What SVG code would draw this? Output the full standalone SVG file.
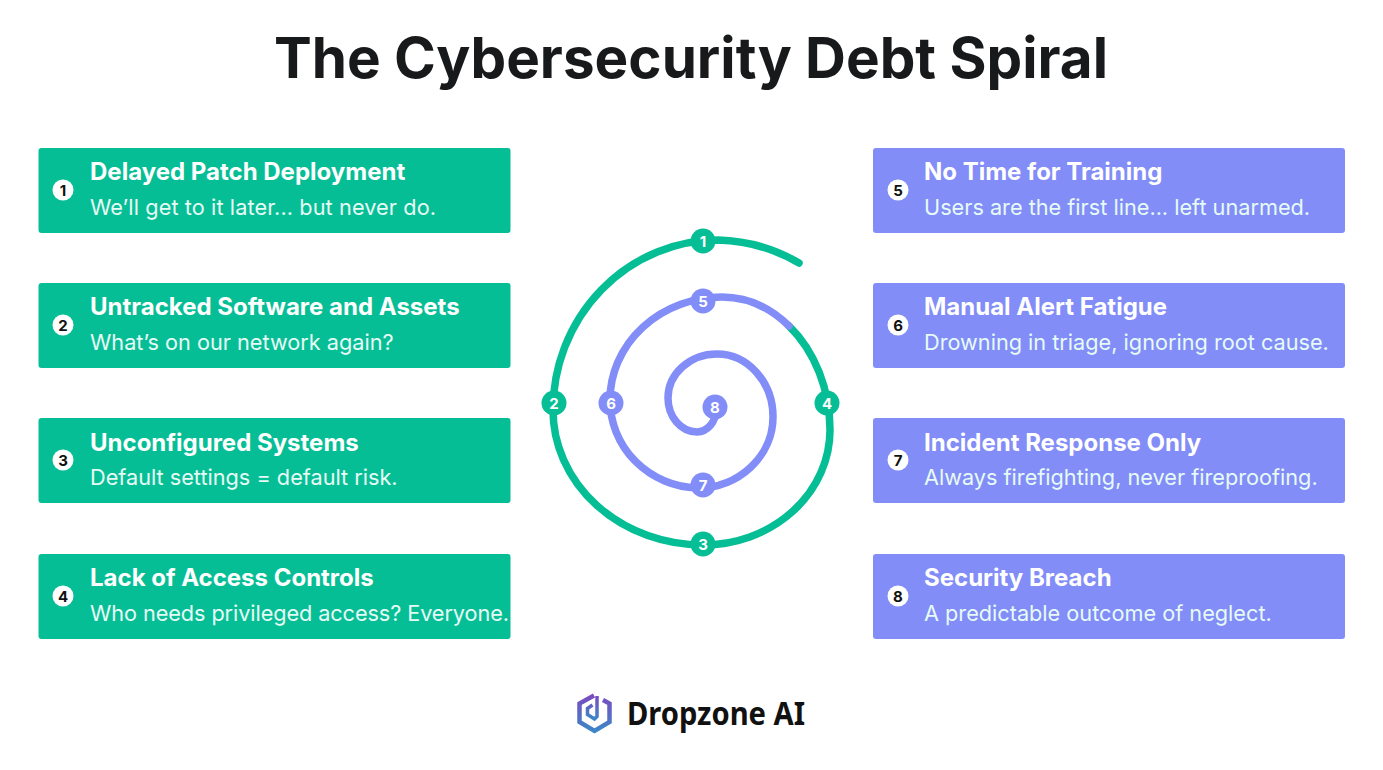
<svg xmlns="http://www.w3.org/2000/svg" width="1383" height="770" viewBox="0 0 1383 770">
<style>
text{font-family:Inter,"Liberation Sans",sans-serif}
.title{font-size:56.6px;font-weight:700;fill:#18191b}
.g{fill:#06be95}.p{fill:#828df8}
.h{font-size:24px;font-weight:700;fill:#fff}
.s{font-size:21.7px;font-weight:400;fill:#e6fbf5}
.bn{font-size:15px;font-weight:700;fill:#111;text-anchor:middle}
.mn{font-size:15px;font-weight:700;fill:#fff;text-anchor:middle}
.sp{fill:none;stroke-width:7.5;stroke-linecap:round}
.brand{font-family:"Noto Sans",sans-serif;font-size:33px;font-weight:700;fill:#111}
</style>
<defs>
<linearGradient id="lg" x1="0" y1="0" x2="0" y2="1"><stop offset="0" stop-color="#7a4bc0"/><stop offset="1" stop-color="#3c86c8"/></linearGradient>
</defs>
<rect width="1383" height="770" fill="#fff"/>
<text class="title" x="691" y="78" text-anchor="middle">The Cybersecurity Debt Spiral</text>

<g id="connectors">
<path class="sp" stroke="#06be95" d="M799 263A165 160 0 0 0 718 240A165 170 0 0 0 553 410A150 135 0 0 0 703 545A127 115 0 0 0 830 430A108 133 0 0 0 789 326"/>
<path class="sp" stroke="#828df8" d="M789 326A108 133 0 0 0 722 297A112 103 0 0 0 610 400A90 88 0 0 0 697 488A76 71 0 0 0 773 417A56 63 0 0 0 717 354A49 44 0 0 0 668 398A29 34 0 0 0 697 432A20 22 0 0 0 716 410"/>
</g>

<g id="card1"><rect class="g" x="38.500" y="148" width="472" height="85" rx="3"/><circle cx="63" cy="190" r="10.500" fill="#fff"/><text class="bn" x="63" y="195.500">1</text><text class="h" x="90" y="180">Delayed Patch Deployment</text><text class="s" x="90" y="215" textLength="346">We’ll get to it later... but never do.</text></g>
<g id="card2"><rect class="g" x="38.500" y="283" width="472" height="85" rx="3"/><circle cx="63" cy="325" r="10.500" fill="#fff"/><text class="bn" x="63" y="330.500">2</text><text class="h" x="90" y="315">Untracked Software and Assets</text><text class="s" x="90" y="350">What’s on our network again?</text></g>
<g id="card3"><rect class="g" x="38.500" y="418" width="472" height="85" rx="3"/><circle cx="63" cy="460" r="10.500" fill="#fff"/><text class="bn" x="63" y="465.500">3</text><text class="h" x="90" y="451">Unconfigured Systems</text><text class="s" x="90" y="485">Default settings = default risk.</text></g>
<g id="card4"><rect class="g" x="38.500" y="554" width="472" height="85" rx="3"/><circle cx="63" cy="596" r="10.500" fill="#fff"/><text class="bn" x="63" y="601.500">4</text><text class="h" x="90" y="586">Lack of Access Controls</text><text class="s" x="90" y="621" textLength="419">Who needs privileged access? Everyone.</text></g>

<g id="card5"><rect class="p" x="873" y="148" width="472" height="85" rx="3"/><circle cx="898" cy="190" r="10.500" fill="#fff"/><text class="bn" x="898" y="195.500">5</text><text class="h" x="924" y="180">No Time for Training</text><text class="s" x="924" y="215">Users are the first line... left unarmed.</text></g>
<g id="card6"><rect class="p" x="873" y="283" width="472" height="85" rx="3"/><circle cx="898" cy="325" r="10.500" fill="#fff"/><text class="bn" x="898" y="330.500">6</text><text class="h" x="924" y="315">Manual Alert Fatigue</text><text class="s" x="924" y="350">Drowning in triage, ignoring root cause.</text></g>
<g id="card7"><rect class="p" x="873" y="418" width="472" height="85" rx="3"/><circle cx="898" cy="460" r="10.500" fill="#fff"/><text class="bn" x="898" y="465.500">7</text><text class="h" x="924" y="451">Incident Response Only</text><text class="s" x="924" y="485">Always firefighting, never fireproofing.</text></g>
<g id="card8"><rect class="p" x="873" y="554" width="472" height="85" rx="3"/><circle cx="898" cy="596" r="10.500" fill="#fff"/><text class="bn" x="898" y="601.500">8</text><text class="h" x="924" y="586">Security Breach</text><text class="s" x="924" y="621">A predictable outcome of neglect.</text></g>

<g id="marker1"><circle class="g" cx="703" cy="241" r="12.500"/><text class="mn" x="703" y="246.500">1</text></g>
<g id="marker2"><circle class="g" cx="554" cy="403" r="12.500"/><text class="mn" x="554" y="408.500">2</text></g>
<g id="marker3"><circle class="g" cx="703" cy="544" r="12.500"/><text class="mn" x="703" y="549.500">3</text></g>
<g id="marker4"><circle class="g" cx="827" cy="403" r="12.500"/><text class="mn" x="827" y="408.500">4</text></g>
<g id="marker5"><circle class="p" cx="703" cy="301" r="12.500"/><text class="mn" x="703" y="306.500">5</text></g>
<g id="marker6"><circle class="p" cx="611" cy="403" r="12.500"/><text class="mn" x="611" y="408.500">6</text></g>
<g id="marker7"><circle class="p" cx="703" cy="485" r="12.500"/><text class="mn" x="703" y="490.500">7</text></g>
<g id="marker8"><circle class="p" cx="715" cy="407" r="12.500"/><text class="mn" x="715" y="412.500">8</text></g>

<g id="logo">
<path d="M594 695.500L579.500 703.500V722L594.500 731L609.500 722V703.500L603 700" fill="none" stroke="url(#lg)" stroke-width="4.500"/>
<path d="M597 696V716.500L594.500 719L587.500 714.500V708.500L592.500 705" fill="none" stroke="url(#lg)" stroke-width="3.500"/>
<text class="brand" x="627" y="725" textLength="178" lengthAdjust="spacingAndGlyphs">Dropzone AI</text>
</g>
</svg>
